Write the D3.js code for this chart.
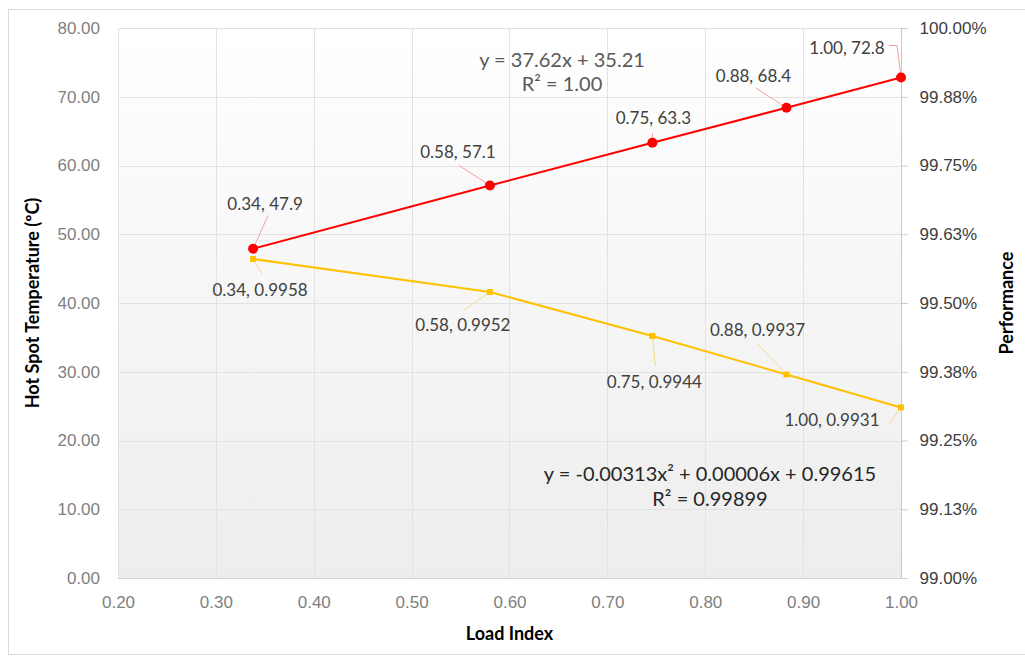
<!DOCTYPE html>
<html>
<head>
<meta charset="utf-8">
<script src="https://cdn.jsdelivr.net/npm/d3@7"></script>
<style>
  body { margin: 0; background: #fff; }
  svg { display: block; font-family: Lato, "Open Sans", sans-serif; }
  .tick text { font-size: 17px; }
  .lab { font-size: 18px; font-weight: bold; fill: #000; }
  .dlab { font-size: 17px; fill: #404040; }
</style>
</head>
<body>
<div id="plot"></div>
<script>
// data
const loadIndex = [0.338, 0.580, 0.746, 0.883, 1.00],
      hotSpot = [47.9, 57.1, 63.3, 68.4, 72.8],
      performance = [0.9958, 0.9952, 0.9944, 0.9937, 0.9931];

const xTicks = [0.2, 0.3, 0.4, 0.5, 0.6, 0.7, 0.8, 0.9, 1.0],
      leftTicks = [0, 10, 20, 30, 40, 50, 60, 70, 80],
      rightTickLabels = ["99.00%", "99.13%", "99.25%", "99.38%", "99.50%",
                         "99.63%", "99.75%", "99.88%", "100.00%"];

const linEq = ["y = 37.62x + 35.21", "R\u00b2 = 1.00"],
      quadEq = ["y = -0.00313x\u00b2 + 0.00006x + 0.99615", "R\u00b2 = 0.99899"];

// label placement (offset of label centre from point, start of leader from label centre, elbow)
const redLabelPos = [[12, -45, 3, 12], [-32, -33, 1, 13], [1, -25, -1, 15], [-33, -32, 2, 12], [-54, -29, 42, -3, true]],
      yellowLabelPos = [[7, 31, 2, -16], [-27, 33, 1, -15], [2, 46, 1, -16], [-29, -44, 0, 13], [-69, 13, 58, 2]];

const w = 1025, h = 657,
      margin = {top: 28, right: 124, bottom: 79, left: 118};

const svg = d3.select("#plot").append("svg")
  .attr("width", w)
  .attr("height", h);

// outer chart border
svg.append("rect")
  .attr("x", 8.5)
  .attr("y", 9.5)
  .attr("width", 1040)
  .attr("height", 645)
  .attr("fill", "#fff")
  .attr("stroke", "#d9d9d9");

const xScale = d3.scaleLinear()
        .domain([0.2, 1.0])
        .range([margin.left, w - margin.right]),
      yScale = d3.scaleLinear()
        .domain([0, 80])
        .range([h - margin.bottom, margin.top]),
      y2Scale = d3.scaleLinear()
        .domain([0.99, 1.0])
        .range([h - margin.bottom, margin.top]);

// plot area gradient
const grad = svg.append("defs").append("linearGradient")
  .attr("id", "bg")
  .attr("x1", 0).attr("y1", 0).attr("x2", 0).attr("y2", 1);
grad.append("stop").attr("offset", "0%").attr("stop-color", "#ffffff");
grad.append("stop").attr("offset", "100%").attr("stop-color", "#ededed");

svg.append("rect")
  .attr("x", xScale(0.2))
  .attr("y", yScale(80))
  .attr("width", xScale(1) - xScale(0.2))
  .attr("height", yScale(0) - yScale(80))
  .attr("fill", "url(#bg)");

// gridlines
svg.append("g")
  .selectAll("line")
  .data(leftTicks)
  .join("line")
  .attr("x1", xScale(0.2))
  .attr("x2", xScale(1))
  .attr("y1", d => Math.round(yScale(d)) + 0.5)
  .attr("y2", d => Math.round(yScale(d)) + 0.5)
  .attr("stroke", d => d === 0 ? "#d0d0d0" : "#e2e2e2");

svg.append("g")
  .selectAll("line")
  .data(xTicks)
  .join("line")
  .attr("x1", d => Math.round(xScale(d)) + 0.5)
  .attr("x2", d => Math.round(xScale(d)) + 0.5)
  .attr("y1", yScale(80))
  .attr("y2", yScale(0))
  .attr("stroke", d => d === 1 ? "#c8c8c8" : "#e2e2e2");

// axes
const xAxis = svg.append("g")
  .attr("transform", `translate(0, ${yScale(0)})`)
  .call(d3.axisBottom(xScale)
    .tickValues(xTicks)
    .tickSize(0)
    .tickPadding(18)
    .tickFormat(d3.format(".2f")));
xAxis.select(".domain").remove();
xAxis.selectAll("text").attr("fill", "#7f7f7f");

const yAxis = svg.append("g")
  .attr("transform", `translate(${xScale(0.2)}, 0)`)
  .call(d3.axisLeft(yScale)
    .tickValues(leftTicks)
    .tickSize(0)
    .tickPadding(18)
    .tickFormat(d3.format(".2f")));
yAxis.select(".domain").remove();
yAxis.selectAll("text").attr("fill", "#7f7f7f");

const y2Axis = svg.append("g")
  .attr("transform", `translate(${Math.round(xScale(1)) + 0.5}, 0)`)
  .call(d3.axisRight(y2Scale)
    .tickValues(rightTickLabels.map((d, i) => 0.99 + i * 0.00125))
    .tickSize(6)
    .tickPadding(12)
    .tickFormat((d, i) => rightTickLabels[i]));
y2Axis.select(".domain").remove();
y2Axis.selectAll("line").attr("stroke", "#c8c8c8");
y2Axis.selectAll("text").attr("fill", "#404040");

// axis titles
svg.append("text")
  .attr("class", "lab")
  .attr("x", xScale(0.6))
  .attr("y", 640)
  .style("text-anchor", "middle")
  .text("Load Index");

svg.append("text")
  .attr("class", "lab")
  .attr("transform", `translate(39, ${yScale(40)}) rotate(-90)`)
  .style("text-anchor", "middle")
  .text("Hot Spot Temperature (\u00baC)");

svg.append("text")
  .attr("class", "lab")
  .attr("transform", `translate(1013, ${yScale(40)}) rotate(-90)`)
  .style("text-anchor", "middle")
  .text("Performance");

// series lines
const redLine = d3.line()
  .x((d, i) => xScale(loadIndex[i]))
  .y(d => yScale(d));
const yellowLine = d3.line()
  .x((d, i) => xScale(loadIndex[i]))
  .y(d => y2Scale(d));

svg.append("path")
  .datum(hotSpot)
  .attr("d", redLine)
  .attr("fill", "none")
  .attr("stroke", "#ff0000")
  .attr("stroke-width", 2);

svg.append("path")
  .datum(performance)
  .attr("d", yellowLine)
  .attr("fill", "none")
  .attr("stroke", "#ffc000")
  .attr("stroke-width", 2);

// leader lines
const leader = (px, py, p) => {
  const sx = px + p[0] + p[2],
        sy = py + p[1] + p[3];
  return p[4] ? `M${sx},${sy}H${px - 4}L${px},${py}` : `M${sx},${sy}L${px},${py}`;
};

svg.append("g")
  .selectAll("path")
  .data(hotSpot)
  .join("path")
  .attr("d", (d, i) => leader(xScale(loadIndex[i]), yScale(d), redLabelPos[i]))
  .attr("fill", "none")
  .attr("stroke", "#f2a0a0")
  .attr("stroke-width", 1);

svg.append("g")
  .selectAll("path")
  .data(performance)
  .join("path")
  .attr("d", (d, i) => leader(xScale(loadIndex[i]), y2Scale(d), yellowLabelPos[i]))
  .attr("fill", "none")
  .attr("stroke", "#f7d98a")
  .attr("stroke-width", 1);

// markers
svg.append("g")
  .selectAll("circle")
  .data(hotSpot)
  .join("circle")
  .attr("cx", (d, i) => xScale(loadIndex[i]))
  .attr("cy", d => yScale(d))
  .attr("r", 5)
  .attr("fill", "#ff0000");

svg.append("g")
  .selectAll("rect")
  .data(performance)
  .join("rect")
  .attr("x", (d, i) => xScale(loadIndex[i]) - 3)
  .attr("y", d => y2Scale(d) - 3)
  .attr("width", 6)
  .attr("height", 6)
  .attr("fill", "#ffc000");

// data labels
svg.append("g")
  .selectAll("text")
  .data(hotSpot)
  .join("text")
  .attr("class", "dlab")
  .attr("x", (d, i) => xScale(loadIndex[i]) + redLabelPos[i][0])
  .attr("y", (d, i) => yScale(d) + redLabelPos[i][1])
  .attr("dy", "0.35em")
  .style("text-anchor", "middle")
  .text((d, i) => loadIndex[i].toFixed(2) + ", " + d.toFixed(1));

svg.append("g")
  .selectAll("text")
  .data(performance)
  .join("text")
  .attr("class", "dlab")
  .attr("x", (d, i) => xScale(loadIndex[i]) + yellowLabelPos[i][0])
  .attr("y", (d, i) => y2Scale(d) + yellowLabelPos[i][1])
  .attr("dy", "0.35em")
  .style("text-anchor", "middle")
  .text((d, i) => loadIndex[i].toFixed(2) + ", " + d.toFixed(4));

// trendline equations
svg.append("g")
  .selectAll("text")
  .data(linEq)
  .join("text")
  .attr("x", 562)
  .attr("y", (d, i) => 60 + i * 24)
  .attr("dy", "0.35em")
  .style("text-anchor", "middle")
  .style("font-size", "20px")
  .attr("fill", "#595959")
  .text(d => d);

svg.append("g")
  .selectAll("text")
  .data(quadEq)
  .join("text")
  .attr("x", 710)
  .attr("y", (d, i) => 474 + i * 25)
  .attr("dy", "0.35em")
  .style("text-anchor", "middle")
  .style("font-size", "20px")
  .attr("fill", "#262626")
  .text(d => d);
</script>
</body>
</html>
